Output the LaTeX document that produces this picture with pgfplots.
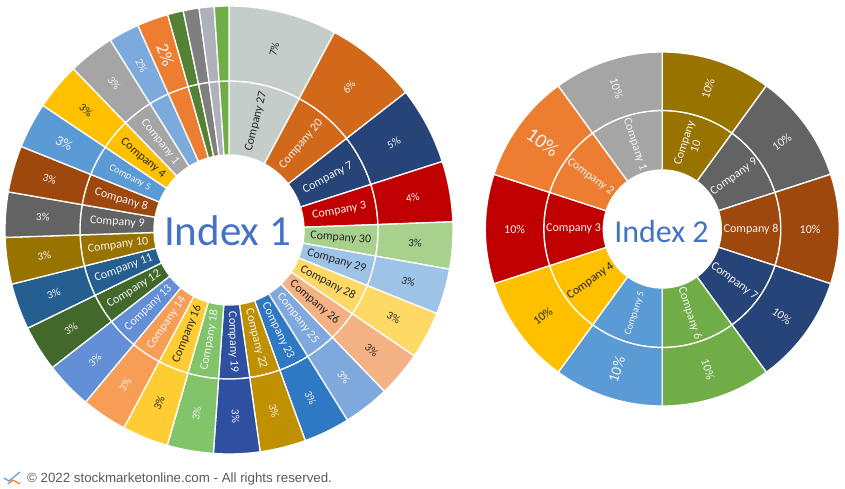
\documentclass[border=0pt]{standalone}
\usepackage{pgfplots}
\pgfplotsset{compat=1.18}
\usepackage{fontspec}
\setmainfont{Carlito}
\newfontfamily\arialf{Liberation Sans}
\definecolor{c1}{HTML}{A5A5A5}\definecolor{c2}{HTML}{ED7D31}\definecolor{c3}{HTML}{C00000}
\definecolor{c4}{HTML}{FFC000}\definecolor{c5}{HTML}{5B9BD5}\definecolor{c6}{HTML}{70AD47}
\definecolor{c7}{HTML}{264478}\definecolor{c8}{HTML}{9E480E}\definecolor{c9}{HTML}{636363}
\definecolor{c10}{HTML}{997300}\definecolor{c11}{HTML}{255E91}\definecolor{c12}{HTML}{43682B}
\definecolor{c13}{HTML}{628FD5}\definecolor{c14}{HTML}{F79D55}\definecolor{c16}{HTML}{FFCD33}
\definecolor{c18}{HTML}{82C46A}\definecolor{c19}{HTML}{2F4FA0}\definecolor{c22}{HTML}{BF9000}
\definecolor{c23}{HTML}{2E78C4}\definecolor{c25}{HTML}{7FA9DC}\definecolor{c26}{HTML}{F4B183}
\definecolor{c28}{HTML}{FFD966}\definecolor{c29}{HTML}{9DC3E6}\definecolor{c30}{HTML}{A9D18E}
\definecolor{c20}{HTML}{D2691A}\definecolor{c27}{HTML}{C5CDCB}
\definecolor{x1}{HTML}{7DAADD}\definecolor{x2}{HTML}{ED7D31}\definecolor{x3}{HTML}{548235}
\definecolor{x4}{HTML}{7F7F7F}\definecolor{x5}{HTML}{AEB0BA}\definecolor{x6}{HTML}{70AD47}
\definecolor{dk}{HTML}{262626}\definecolor{lt}{HTML}{F4F4F4}
\definecolor{idx}{HTML}{4472C4}
% ring polygon: cx cy r1 r2 a b colour
\newcommand\ringseg[7]{%
  \pgfmathtruncatemacro\nseg{max(2,ceil((#6-#5)/1.5))}%
  \gdef\pts{}%
  \foreach \i in {0,...,\nseg}{%
    \pgfmathsetmacro\tt{#5+(#6-#5)*\i/\nseg}%
    \pgfmathsetmacro\xx{#1+#4*sin(\tt)}%
    \pgfmathsetmacro\yy{#2-#4*cos(\tt)}%
    \xdef\pts{\pts (\xx,\yy)}%
  }%
  \foreach \i in {\nseg,...,0}{%
    \pgfmathsetmacro\tt{#5+(#6-#5)*\i/\nseg}%
    \pgfmathsetmacro\xx{#1+#3*sin(\tt)}%
    \pgfmathsetmacro\yy{#2-#3*cos(\tt)}%
    \xdef\pts{\pts (\xx,\yy)}%
  }%
  \edef\cmd{\noexpand\addplot[fill=#7,draw=white,line width=1.3pt,forget plot,mark=none,line join=round]
     coordinates {\pts} -- cycle;}\cmd
}
\newcommand\ringlabel[7]{% cx cy r mid size colour text
  \pgfmathsetmacro\xx{#1+#3*sin(#4)}%
  \pgfmathsetmacro\yy{#2-#3*cos(#4)}%
  \pgfmathsetmacro\rot{#4>180 ? 270-#4 : 90-#4}%
  \edef\cmd{\noexpand\node[rotate=\rot,text=#6,align=center,inner sep=0pt,
     font={\noexpand\fontsize{#5}{#5}\noexpand\selectfont}]
     at (axis cs:\xx,\yy) {\unexpanded{#7}};}\cmd
}
% \slice{share deg}{colour}{inner label}{outer label}{inner size}{outer size}{text colour}
\newcommand\wedges[7]{%
  \pgfmathsetmacro\aend{\acur+#1}%
  \ringseg{\cx}{\cy}{\ra}{\rb}{\acur}{\aend}{#2}%
  \ringseg{\cx}{\cy}{\rb}{\rc}{\acur}{\aend}{#2}%
  \global\let\acur\aend
}
\newcommand\labels[7]{%
  \pgfmathsetmacro\aend{\acur+#1}%
  \pgfmathsetmacro\amid{\acur+#1/2}%
  \pgfmathsetmacro\rm{(\ra+\rb)/2}%
  \pgfmathsetmacro\rn{(\rb+\rc)/2}%
  \ringlabel{\cx}{\cy}{\rm}{\amid}{#5}{#7}{#3}%
  \ringlabel{\cx}{\cy}{\rn}{\amid}{#6}{#7}{#4}%
  \global\let\acur\aend
}
\newcommand\leftdata{%
\slice{28.1}{c27}{Company 27}{7\%}{12}{11}{dk}
\slice{24.0}{c20}{Company 20}{6\%}{12}{11}{lt}
\slice{20.1}{c7}{Company 7}{5\%}{12}{11}{lt}
\slice{15.7}{c3}{Company 3}{4\%}{12}{11}{lt}
\slice{12.2}{c30}{Company 30}{3\%}{12}{11}{dk}
\slice{11.8}{c29}{Company 29}{3\%}{12}{11}{dk}
\slice{12.3}{c28}{Company 28}{3\%}{12}{11}{dk}
\slice{11.9}{c26}{Company 26}{3\%}{12}{11}{dk}
\slice{12.0}{c25}{Company 25}{3\%}{12}{11}{lt}
\slice{12.0}{c23}{Company 23}{3\%}{12}{11}{lt}
\slice{11.9}{c22}{Company 22}{3\%}{12}{11}{lt}
\slice{12.0}{c19}{Company 19}{3\%}{12}{11}{lt}
\slice{12.0}{c18}{Company 18}{3\%}{12}{11}{lt}
\slice{12.0}{c16}{Company 16}{3\%}{12}{11}{dk}
\slice{11.8}{c14}{Company 14}{3\%}{12}{11}{lt}
\slice{12.3}{c13}{Company 13}{3\%}{12}{11}{lt}
\slice{11.9}{c12}{Company 12}{3\%}{12}{11}{lt}
\slice{12.0}{c11}{Company 11}{3\%}{12}{11}{lt}
\slice{12.1}{c10}{Company 10}{3\%}{12}{11}{lt}
\slice{11.7}{c9}{Company 9}{3\%}{12}{11}{lt}
\slice{12.1}{c8}{Company 8}{3\%}{12}{11}{lt}
\slice{11.9}{c5}{Company 5}{3\%}{10}{14}{lt}
\slice{12.2}{c4}{Company 4}{3\%}{12}{11}{dk}
\slice{12.0}{c1}{Company 1}{3\%}{12}{11}{lt}
\slice{8.0}{x1}{}{2\%}{12}{11}{lt}
\slice{8.1}{x2}{}{2\%}{12}{18}{lt}
\slice{4.1}{x3}{}{}{12}{11}{lt}
\slice{4.1}{x4}{}{}{12}{11}{lt}
\slice{3.9}{x5}{}{}{12}{11}{lt}
\slice{3.8}{x6}{}{}{12}{11}{lt}
}
\newcommand\rightdata{%
\slice{36}{c10}{Company\\10}{10\%}{12}{12}{lt}
\slice{36}{c9}{Company 9}{10\%}{12}{12}{lt}
\slice{36}{c8}{Company 8}{10\%}{12}{12}{lt}
\slice{36}{c7}{Company 7}{10\%}{12}{12}{lt}
\slice{36}{c6}{Company 6}{10\%}{12}{12}{lt}
\slice{36}{c5}{Company 5}{10\%}{10}{15}{lt}
\slice{36}{c4}{Company 4}{10\%}{12}{12}{dk}
\slice{36}{c3}{Company 3}{10\%}{12}{12}{lt}
\slice{36}{c2}{Company 2}{10\%}{12}{20}{lt}
\slice{36}{c1}{Company 1}{10\%}{12}{12}{lt}
}
\newcommand\drawchart[6]{% data cx cy ra rb rc
  \def\cx{#2}\def\cy{#3}\def\ra{#4}\def\rb{#5}\def\rc{#6}%
  \gdef\acur{0}\let\slice\wedges #1%
  \gdef\acur{0}\let\slice\labels #1%
}
\begin{document}
\begin{tikzpicture}[x=1pt,y=1pt]
\path[use as bounding box] (0,0) rectangle (845pt,489pt);
\begin{axis}[at={(0,0)},anchor=south west,scale only axis,width=845pt,height=489pt,
  xmin=0,xmax=845,ymin=0,ymax=489,y dir=reverse,hide axis,clip=false]
\drawchart{\leftdata}{229}{230}{75}{149}{224}
\drawchart{\rightdata}{662.3}{229}{59}{118.5}{177}
\node[text=idx,inner sep=0pt,font={\fontsize{43}{43}\selectfont}] at (axis cs:227.5,231) {Index 1};
\node[text=idx,inner sep=0pt,font={\fontsize{32}{32}\selectfont}] at (axis cs:661.5,231) {Index 2};
\addplot[draw=c5,line width=1.2pt,forget plot,mark=none] coordinates {(4,478)(9,481)(20,472)};
\addplot[draw=c2,line width=1.2pt,forget plot,mark=none] coordinates {(8,484)(13,480)(20,484)};
\node[anchor=west,inner sep=0pt,text=black!65,font={\arialf\fontsize{13.3}{13.3}\selectfont}] at (axis cs:27,479) {© 2022 stockmarketonline.com - All rights reserved.};
\end{axis}
\end{tikzpicture}
\end{document}
